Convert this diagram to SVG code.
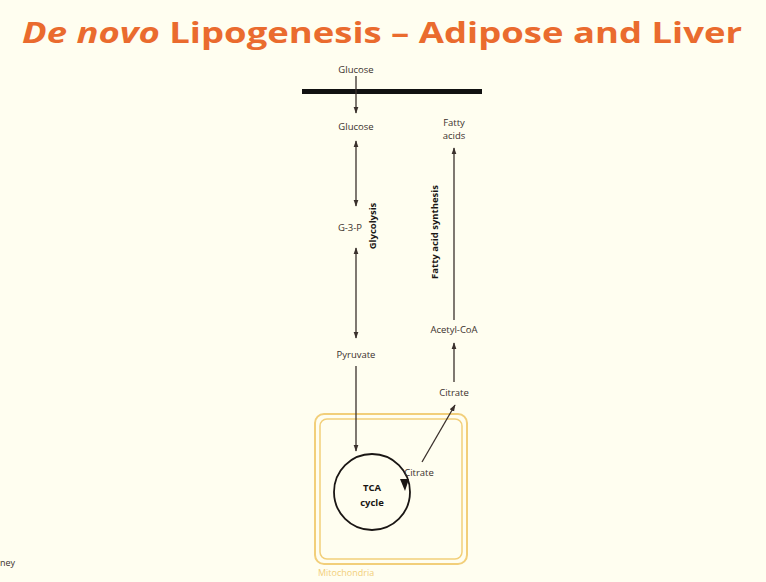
<svg xmlns="http://www.w3.org/2000/svg" width="766" height="582" viewBox="0 0 766 582">
<style>
.t{font-family:"Open Sans","Liberation Sans",sans-serif;font-size:9.5px;fill:#3a302c;text-anchor:middle}
.b{font-weight:bold;fill:#1a1614}
.ln{stroke:#3a302c;stroke-width:1.3;fill:none}
</style>
<defs>
<marker id="ah" viewBox="0 0 10 10" refX="9" refY="5" markerWidth="7" markerHeight="7" orient="auto-start-reverse" markerUnits="userSpaceOnUse"><path d="M0,1.5 L10,5 L0,8.5 z" fill="#3a302c"/></marker>
</defs>
<rect width="766" height="582" fill="#fffef0"/>
<text x="22" y="43" font-family="'Open Sans','Liberation Sans',sans-serif" font-size="29" font-weight="bold" fill="#ea6b2e" textLength="720" lengthAdjust="spacingAndGlyphs"><tspan font-style="italic">De novo</tspan> Lipogenesis – Adipose and Liver</text>
<rect x="302" y="89" width="180" height="5" fill="#111"/>
<g id="mito">
<rect x="315" y="414" width="152" height="150" rx="9" fill="none" stroke="#f2cf7a" stroke-width="2"/>
<rect x="320" y="419" width="142" height="140" rx="7" fill="none" stroke="#f2cf7a" stroke-width="1.5"/>
<text x="318" y="576" font-family="'Open Sans','Liberation Sans',sans-serif" font-size="9" fill="#f2cf7a">Mitochondria</text>
</g>
<g id="connectors">
<line class="ln" x1="356" y1="76" x2="356" y2="113" marker-end="url(#ah)"/>
<line class="ln" x1="356" y1="141" x2="356" y2="206" marker-start="url(#ah)" marker-end="url(#ah)"/>
<line class="ln" x1="356" y1="248" x2="356" y2="338" marker-start="url(#ah)" marker-end="url(#ah)"/>
<line class="ln" x1="356" y1="366" x2="356" y2="451" marker-end="url(#ah)"/>
<line class="ln" x1="422" y1="462" x2="455" y2="405" marker-end="url(#ah)"/>
<line class="ln" x1="454" y1="382" x2="454" y2="343" marker-end="url(#ah)"/>
<line class="ln" x1="454" y1="320" x2="454" y2="148" marker-end="url(#ah)"/>
</g>
<g id="tca">
<circle cx="372" cy="492" r="38" fill="none" stroke="#1a1614" stroke-width="1.8"/>
<path d="M400,479 L409,479 L405,491 z" fill="#1a1614"/>
<text class="t b" x="372" y="491" font-size="11.5">TCA</text>
<text class="t b" x="372" y="506" font-size="11.5">cycle</text>
</g>
<g id="n-glucose-out"><text class="t" x="356" y="73">Glucose</text></g>
<g id="n-glucose"><text class="t" x="356" y="130">Glucose</text></g>
<g id="n-g3p"><text class="t" x="350" y="231">G-3-P</text></g>
<g id="n-pyruvate"><text class="t" x="356" y="358">Pyruvate</text></g>
<g id="n-citrate-m"><text class="t" x="419" y="476">Citrate</text></g>
<g id="n-citrate"><text class="t" x="454" y="396">Citrate</text></g>
<g id="n-acetyl"><text class="t" x="454" y="333">Acetyl-CoA</text></g>
<g id="n-fatty"><text class="t" x="454" y="126">Fatty</text><text class="t" x="454" y="139">acids</text></g>
<text class="t b" transform="translate(376,226) rotate(-90)">Glycolysis</text>
<text class="t b" transform="translate(438,232) rotate(-90)">Fatty acid synthesis</text>
<text x="0" y="566" font-family="'Open Sans','Liberation Sans',sans-serif" font-size="9" fill="#3a302c">ney</text>
</svg>
